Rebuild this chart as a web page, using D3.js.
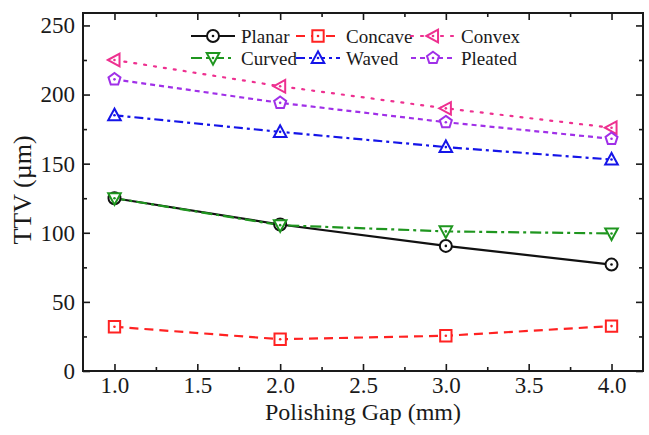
<!DOCTYPE html>
<html><head><meta charset="utf-8">
<script src="https://cdn.jsdelivr.net/npm/d3@7"></script>
<style>html,body{margin:0;padding:0;background:#fff;}svg{display:block;}
svg text{font-family:"Liberation Serif","Times New Roman",Times,serif;}
</style>
</head><body>
<svg id="chart" width="649" height="435"></svg>
<script>
const gaps = [1.0, 2.0, 3.0, 4.0];
const seriesNames = ["Planar", "Concave", "Convex", "Curved", "Waved", "Pleated"];
const planar  = [125, 106, 90.5, 77];
const concave = [32, 23, 25.5, 32.5];
const convex  = [225, 206, 190, 176];
const curved  = [125, 105.5, 101, 99.5];
const waved   = [185, 173, 162, 153];
const pleated = [211, 194, 180, 168];
const xTicks = [1.0, 1.5, 2.0, 2.5, 3.0, 3.5, 4.0];
const yTicks = [0, 50, 100, 150, 200, 250];

const values = [planar, concave, convex, curved, waved, pleated];
const colors = ["#111111", "#ff2222", "#ee3090", "#1f961f", "#1515e8", "#a030e8"];
const dashes = [null, "9,6", "2,8", "11,4,3,4", "9,4,3,4", "5,4"];
const shapes = ["circle", "square", "left", "down", "up", "pentagon"];

const W = 649, H = 435;
const m = {left: 83, right: 6, top: 13, bottom: 64};
const svg = d3.select("#chart");
const font = '"Liberation Serif","Times New Roman",Times,serif';

const x = d3.scaleLinear().domain([0.81, 4.19]).range([m.left, W - m.right]);
const y = d3.scaleLinear().domain([0, 259]).range([H - m.bottom, m.top]);

const ink = "#1a1a1a";
svg.append("rect").attr("x", m.left).attr("y", m.top)
  .attr("width", W - m.right - m.left).attr("height", H - m.bottom - m.top)
  .attr("fill", "none").attr("stroke", ink).attr("stroke-width", 2);

const xMinor = d3.range(1.0, 4.01, 0.25).filter(v => Math.abs(v*2 - Math.round(v*2)) > 1e-6);
const yMinor = d3.range(25, 251, 50);

function styleAxis(g, showLabels) {
  g.attr("font-family", null);
  g.select(".domain").remove();
  g.selectAll(".tick line").attr("stroke", ink).attr("stroke-width", 1.6);
  if (showLabels) {
    g.selectAll(".tick text").style("font-family", font).style("font-size", "23px").attr("fill", ink);
  } else {
    g.selectAll(".tick text").remove();
  }
}
const yb = H - m.bottom, xl = m.left, xr = W - m.right;
svg.append("g").attr("transform", `translate(0,${yb})`)
  .call(d3.axisBottom(x).tickValues(xTicks).tickFormat(d3.format(".1f")).tickSizeInner(-7).tickPadding(6))
  .call(g => styleAxis(g, true));
svg.append("g").attr("transform", `translate(0,${yb})`)
  .call(d3.axisBottom(x).tickValues(xMinor).tickSizeInner(-4)).call(g => styleAxis(g, false));
svg.append("g").attr("transform", `translate(0,${m.top})`)
  .call(d3.axisTop(x).tickValues(xTicks).tickSizeInner(-7)).call(g => styleAxis(g, false));
svg.append("g").attr("transform", `translate(0,${m.top})`)
  .call(d3.axisTop(x).tickValues(xMinor).tickSizeInner(-4)).call(g => styleAxis(g, false));
svg.append("g").attr("transform", `translate(${xl},0)`)
  .call(d3.axisLeft(y).tickValues(yTicks).tickSizeInner(-7).tickPadding(8))
  .call(g => styleAxis(g, true));
svg.append("g").attr("transform", `translate(${xl},0)`)
  .call(d3.axisLeft(y).tickValues(yMinor).tickSizeInner(-4)).call(g => styleAxis(g, false));
svg.append("g").attr("transform", `translate(${xr},0)`)
  .call(d3.axisRight(y).tickValues(yTicks).tickSizeInner(-7)).call(g => styleAxis(g, false));
svg.append("g").attr("transform", `translate(${xr},0)`)
  .call(d3.axisRight(y).tickValues(yMinor).tickSizeInner(-4)).call(g => styleAxis(g, false));

svg.append("text").attr("x", (xl + xr) / 2).attr("y", 420).attr("text-anchor", "middle")
  .style("font-family", font).style("font-size", "24px").attr("fill", ink).text("Polishing Gap (mm)");
svg.append("text").attr("transform", "translate(31,190) rotate(-90)").attr("text-anchor", "middle")
  .style("font-family", font).style("font-size", "26px").attr("fill", ink).text("TTV (µm)");

function markerPath(shape, r) {
  const p = d3.path();
  if (shape === "circle") { p.arc(0, 0, r * 0.95, 0, 2 * Math.PI); }
  else if (shape === "square") { const s = r * 0.9; p.rect(-s, -s, 2 * s, 2 * s); }
  else if (shape === "left") { p.moveTo(-r * 1.05, 0); p.lineTo(r * 0.8, -r); p.lineTo(r * 0.8, r); p.closePath(); }
  else if (shape === "down") { p.moveTo(0, r * 1.05); p.lineTo(-r, -r * 0.8); p.lineTo(r, -r * 0.8); p.closePath(); }
  else if (shape === "up") { p.moveTo(0, -r * 1.05); p.lineTo(-r, r * 0.8); p.lineTo(r, r * 0.8); p.closePath(); }
  else if (shape === "pentagon") {
    for (let i = 0; i < 5; i++) {
      const a = -Math.PI / 2 + i * 2 * Math.PI / 5;
      const px = r * Math.cos(a), py = r * Math.sin(a);
      if (i === 0) p.moveTo(px, py); else p.lineTo(px, py);
    }
    p.closePath();
  }
  return p.toString();
}
function drawMarker(g, cx, cy, i) {
  const mg = g.append("g").attr("transform", `translate(${cx},${cy})`);
  mg.append("path").attr("d", markerPath(shapes[i], 6.3)).attr("fill", "#fff")
    .attr("stroke", colors[i]).attr("stroke-width", 2).attr("stroke-linejoin", "miter");
  mg.append("circle").attr("r", 1.3).attr("fill", colors[i]);
}

const line = d3.line().x(d => x(d[0])).y(d => y(d[1]));
const plot = svg.append("g");
values.forEach((vals, i) => {
  const pts = gaps.map((g, k) => [g, vals[k]]);
  plot.append("path").attr("d", line(pts)).attr("fill", "none")
    .attr("stroke", colors[i]).attr("stroke-width", 2.2)
    .attr("stroke-dasharray", dashes[i]).attr("stroke-linecap", dashes[i] === "2,8" ? "round" : "butt");
});
values.forEach((vals, i) => {
  gaps.forEach((g, k) => drawMarker(plot, x(g), y(vals[k]), i));
});

const legCols = [191, 296, 411];
const legRows = [36, 58];
const leg = svg.append("g");
seriesNames.forEach((name, i) => {
  const cx = legCols[i % 3], cy = legRows[Math.floor(i / 3)];
  leg.append("line").attr("x1", cx).attr("x2", cx + 44).attr("y1", cy).attr("y2", cy)
    .attr("stroke", colors[i]).attr("stroke-width", 2.2).attr("stroke-dasharray", dashes[i])
    .attr("stroke-linecap", dashes[i] === "2,8" ? "round" : "butt");
  drawMarker(leg, cx + 22, cy, i);
  leg.append("text").attr("x", cx + 50).attr("y", cy + 6.5)
    .style("font-family", font).style("font-size", "19px").attr("fill", ink).text(name);
});
</script>
</body></html>
